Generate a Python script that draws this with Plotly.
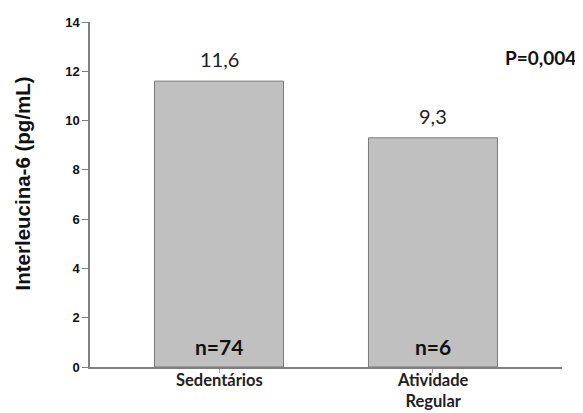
import plotly.graph_objects as go

categories = ["Sedentários", "Atividade<br>Regular"]
values = [11.6, 9.3]
value_labels = ["11,6", "9,3"]
n_labels = ["n=74", "n=6"]
p_label = "P=0,004"
y_title = "Interleucina-6 (pg/mL)"
y_ticks = [0, 2, 4, 6, 8, 10, 12, 14]

HUM = "Lato, Carlito, sans-serif"
ARIAL = "Liberation Sans, Arial, sans-serif"

fig = go.Figure()
fig.add_trace(go.Bar(
    x=[0, 1], y=values, width=0.603,
    marker=dict(color="#c0c0c0", line=dict(color="#7a7a7a", width=1)),
    showlegend=False, hoverinfo="skip",
))

for i, (v, lab, nl, cat) in enumerate(zip(values, value_labels, n_labels, categories)):
    fig.add_annotation(x=i, y=v, text=lab, showarrow=False, yanchor="bottom", yshift=8,
                       font=dict(family=HUM, size=20, color="#222222"))
    fig.add_annotation(x=i, y=0, text=nl, showarrow=False, yanchor="bottom", yshift=6,
                       font=dict(family=HUM, size=21, color="#111111", weight="bold"))
    fig.add_annotation(x=i, y=0, yref="paper", text=cat, showarrow=False, yanchor="top",
                       yshift=-2, borderpad=0,
                       font=dict(family=HUM, size=16.5, color="#222222", weight="bold"))

fig.add_annotation(x=1, xref="paper", xanchor="right", xshift=16, y=0.897, yref="paper",
                   yanchor="middle", text=p_label, showarrow=False,
                   font=dict(family=HUM, size=19, color="#111111", weight="bold"))

fig.add_annotation(x=0, xref="paper", xshift=-68, xanchor="center", y=0.532, yref="paper",
                   yanchor="middle", text=y_title, textangle=-90, showarrow=False,
                   font=dict(family=ARIAL, size=20.5, color="#111111", weight="bold"))

fig.update_layout(
    width=575, height=405,
    margin=dict(l=82, r=21, t=14, b=46),
    paper_bgcolor="white", plot_bgcolor="white",
    xaxis=dict(range=[-0.603, 1.603], tickvals=[0, 1], ticktext=["", ""],
               automargin=False,
               showline=True, linecolor="#808080", linewidth=1.5, ticks="outside",
               ticklen=4, tickcolor="#a0a0a0", showgrid=False, zeroline=False),
    yaxis=dict(range=[0, 14], tickvals=y_ticks, automargin=False,
               showline=True, linecolor="#808080",
               linewidth=1.5, ticks="outside", ticklen=6, tickcolor="#808080",
               showgrid=False, zeroline=False,
               tickfont=dict(family=ARIAL, size=13, color="#111111", weight="bold")),
)

fig.write_html("out.html")
